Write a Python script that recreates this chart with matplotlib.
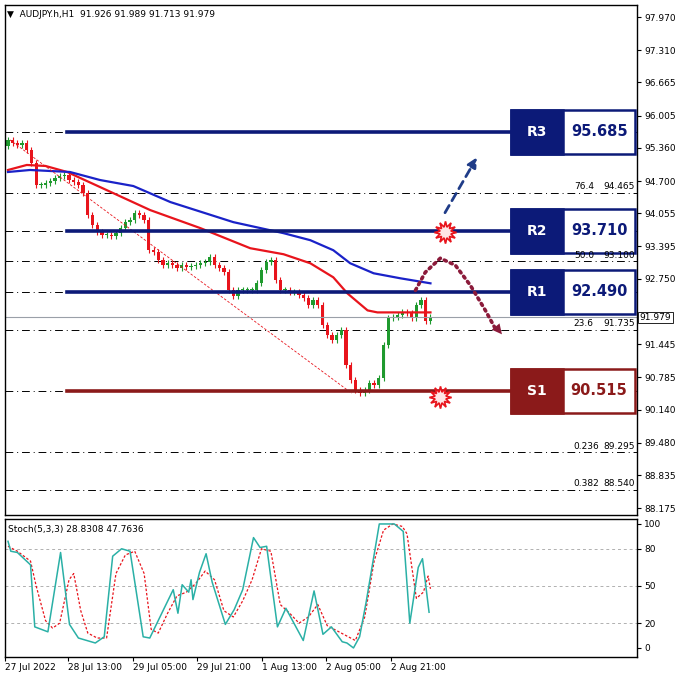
import matplotlib
matplotlib.use("Agg")
import matplotlib.pyplot as plt
import matplotlib.transforms as mtransforms
from matplotlib.patches import Rectangle
import numpy as np

closes = [95.52,95.46,95.42,95.46,95.32,95.06,94.62,94.62,94.66,94.70,94.76,94.80,94.82,94.72,94.68,94.62,94.46,94.02,93.82,93.68,
          93.62,93.62,93.60,93.66,93.76,93.88,93.92,94.06,94.02,93.92,93.32,93.28,93.12,93.02,93.06,93.02,92.96,93.02,92.98,93.00,
          93.02,93.06,93.08,93.18,93.02,92.96,92.88,92.52,92.40,92.52,92.52,92.52,92.52,92.66,92.92,93.08,93.12,92.72,92.52,92.52,
          92.48,92.48,92.42,92.36,92.22,92.32,92.22,91.83,91.63,91.53,91.63,91.73,91.03,90.73,90.53,90.47,90.53,90.67,90.63,90.77,
          91.43,91.97,91.99,92.03,92.09,92.07,91.97,92.22,92.32,91.91,91.98]
first_open = 95.40
ma_red_idx = [0,4,8,12.6,19.6,30.3,41,51.6,58.7,64.4,69.3,72.3,76.6,78.7,90]
ma_red = [94.92,95.02,95.0,94.88,94.58,94.12,93.76,93.36,93.24,93.06,92.78,92.46,92.12,92.08,92.08]
ma_blue_idx = [0,4.7,13.2,19.6,26.7,34.6,48,58.7,64.4,69.3,72.9,77.9,83.6,90]
ma_blue = [94.88,94.92,94.88,94.72,94.60,94.28,93.88,93.66,93.52,93.32,93.06,92.86,92.76,92.66]
k_idx = [0,0.6,2,4.8,5.7,8.5,11.2,13.1,15,18.6,20.5,22.3,24.2,26,28.8,30.2,33.4,35.2,36.2,37.1,38.5,39,39.4,40.8,42.2,43.5,
         46.3,48.2,50,52.3,53.7,55.1,57.4,59.2,62.9,65.2,67.1,68.9,71.2,72.2,73.6,74.9,76.3,79.1,82.3,84.2,85.6,87.4,88.3,89.7]
k_val = [86,78,77,67,17,13,77,19,8,4,9,74,80,78,9,8,33,47,28,51,45,55,39,61,76,53,19,31,47,89,81,82,17,32,6,46,11,17,5,4,
         0,9,37,100,100,94,20,65,72,28.8]
d_idx = [0,2,4.8,6,8,9.5,11,13,14,15.5,17,19,21,23,25,27,29,30.5,32,34,36,38,40,42,44,46,48,50,52,54,56,58,60,62,64,66,68,70,
         72,74,76,78,80,82,84,85,87,88.5,89.5,90]
d_val = [82,78,70,50,22,16,20,55,60,30,12,8,8,60,75,78,60,15,12,28,42,45,52,62,55,30,25,38,55,80,78,35,28,20,25,35,18,14,10,6,
         25,70,95,100,98,92,40,45,58,47.7]
levels = {"R3": 95.685, "R2": 93.710, "R1": 92.490, "S1": 90.515}
fib_levels = [95.685, 94.465, 93.710, 93.100, 92.490, 91.735, 90.515, 89.295, 88.540]
fib_labels = {94.465: ("76.4", "94.465"), 93.100: ("50.0", "93.100"), 91.735: ("23.6", "91.735"),
              89.295: ("0.236", "89.295"), 88.540: ("0.382", "88.540")}
price_ticks = [97.970,97.310,96.665,96.005,95.360,94.700,94.055,93.395,92.750,91.445,90.785,90.140,89.480,88.835,88.175]
time_ticks_idx = [-0.6,12.8,26.6,40.3,54.2,67.8,81.5]
time_labels = ["27 Jul 2022","28 Jul 13:00","29 Jul 05:00","29 Jul 21:00","1 Aug 13:00","2 Aug 05:00","2 Aug 21:00"]
last_price = 91.979

NAVY = "#0c1a78"
MAROON = "#8b1a1a"
W = 678
fig = plt.figure(figsize=(6.78, 6.78), dpi=100)
fig.patch.set_facecolor("white")
ax = fig.add_axes([5/W, 1-515/W, 632/W, 510/W])
ax2 = fig.add_axes([5/W, 1-657/W, 632/W, 138/W])
XL = (-0.64, 134)
for a in (ax, ax2):
    a.set_xlim(*XL)
    for s in a.spines.values():
        s.set_color("black"); s.set_linewidth(1)
ax.set_ylim(88.04, 98.21)
ax2.set_ylim(-7.3, 104)

opens = [first_open] + closes[:-1]
for i, (o, c) in enumerate(zip(opens, closes)):
    col = "#1f9a2e" if c >= o else "#e8141c"
    hi = max(o, c) + 0.06; lo = min(o, c) - 0.06
    ax.vlines(i, lo, hi, color=col, lw=0.8)
    h = max(abs(c - o), 0.02)
    ax.add_patch(Rectangle((i - 0.35, min(o, c)), 0.7, h, color=col, lw=0))

ax.plot(ma_red_idx, ma_red, color="#e8141c", lw=1.6)
ax.plot(ma_blue_idx, ma_blue, color="#1a22c8", lw=1.6)
ax.plot([0.4, 73.2], [95.52, 90.47], color="#e8141c", lw=0.6, ls=(0, (3, 2)))

for f in fib_levels:
    ax.axhline(f, color="black", lw=0.7, ls=(0, (8, 4, 1, 4)), zorder=0)
bt = mtransforms.blended_transform_factory(ax.transAxes, ax.transData)
for f, (a, b) in fib_labels.items():
    ax.text(0.9, f + 0.03, a, transform=bt, fontsize=6.5, ha="left", va="bottom", zorder=9)
    ax.text(0.997, f + 0.03, b, transform=bt, fontsize=6.5, ha="right", va="bottom", zorder=9)

ax.axhline(last_price, color="#9aa0a8", lw=0.8)

for name, lv in levels.items():
    col = MAROON if name == "S1" else NAVY
    ax.plot([0.098, 0.80], [lv, lv], transform=bt, color=col, lw=2.6)
    ax.add_patch(Rectangle((0.80, lv - 0.44), 0.197, 0.88, transform=bt, facecolor="white", edgecolor=col, lw=1.8, zorder=5))
    ax.add_patch(Rectangle((0.80, lv - 0.44), 0.083, 0.88, transform=bt, facecolor=col, edgecolor=col, lw=1.8, zorder=6))
    ax.text(0.8415, lv, name, transform=bt, color="white", fontsize=10, fontweight="bold", ha="center", va="center", zorder=7)
    ax.text(0.94, lv, f"{lv:.3f}", transform=bt, color=col, fontsize=10.5, fontweight="bold", ha="center", va="center", zorder=7)

ax.annotate("", xy=(100.2, 95.22), xytext=(92.8, 94.02),
            arrowprops=dict(arrowstyle="-|>", color="#1f3c88", lw=2, ls=(0, (3, 2)), mutation_scale=14))
cx = [86.8, 88.9, 92.1, 95.3, 98.5, 101.7, 103.8]
cy = [92.52, 92.88, 93.16, 93.02, 92.62, 92.12, 91.76]
ax.plot(cx, cy, color="#8b1a3a", lw=2.6, ls=(0, (0.6, 1.2)), dash_capstyle="round")
ax.annotate("", xy=(105.6, 91.6), xytext=(103.0, 91.9),
            arrowprops=dict(arrowstyle="-|>", color="#8b1a3a", lw=0, mutation_scale=18))
for sx, sy in [(93.2, 93.68), (92.1, 90.39)]:
    ax.plot(sx, sy, marker=(12, 1, 0), ms=16, mfc="#ffe6e6", mec="#e8141c", mew=1.2, zorder=8)

ax.yaxis.tick_right()
ax.set_yticks(price_ticks)
ax.set_yticklabels([f"{p:.3f}" for p in price_ticks], fontsize=6.5)
ax.tick_params(axis="y", length=3, pad=2)
ax.set_xticks([])
ax.text(1.004, last_price, f"{last_price:.3f}", transform=bt, fontsize=6.5, va="center", ha="left",
        bbox=dict(facecolor="white", edgecolor="black", pad=1, lw=0.6), zorder=10, clip_on=False)
ax.text(0.003, 0.99, "▼  AUDJPY.h,H1  91.926 91.989 91.713 91.979", transform=ax.transAxes, fontsize=6.5, va="top")

for lv in (80, 50, 20):
    ax2.axhline(lv, color="#b0b0b0", lw=0.7, ls=(0, (3, 3)))
ax2.plot(d_idx, d_val, color="#e8141c", lw=0.9, ls=(0, (2, 1.5)))
ax2.plot(k_idx, k_val, color="#2ab0a6", lw=1.1)
ax2.yaxis.tick_right()
ax2.set_yticks([100, 80, 50, 20, 0])
ax2.set_yticklabels(["100", "80", "50", "20", "0"], fontsize=6.5)
ax2.tick_params(axis="y", length=3, pad=2)
ax2.set_xticks(time_ticks_idx)
ax2.set_xticklabels(time_labels, fontsize=6.5, ha="left")
ax2.tick_params(axis="x", length=3, pad=1)
ax2.text(0.005, 0.96, "Stoch(5,3,3) 28.8308 47.7636", transform=ax2.transAxes, fontsize=6.5, va="top")

fig.savefig("out.png", dpi=100, facecolor="white")
